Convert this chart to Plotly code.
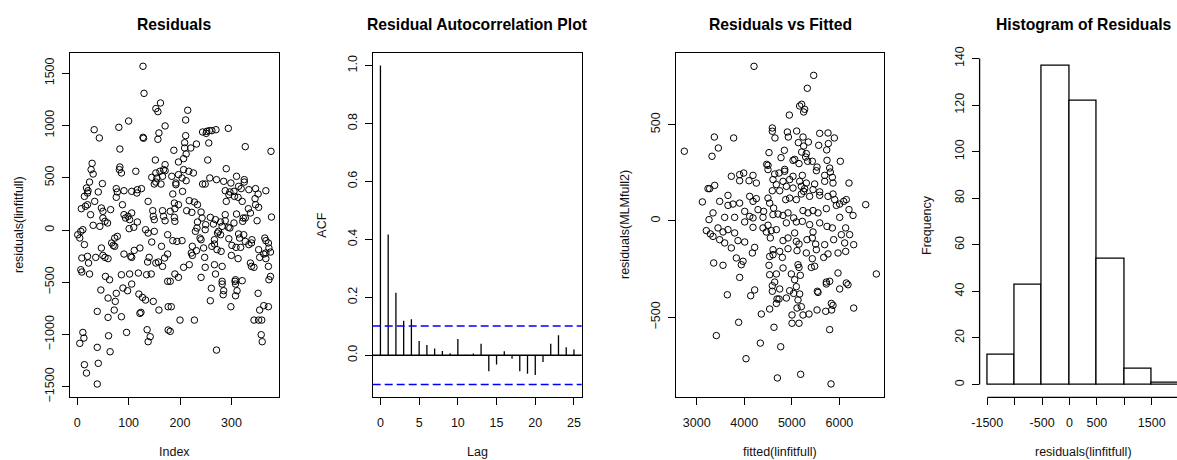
import plotly.graph_objects as go

# ---------------- data ----------------
# residuals(linfitfull) against observation index
obs_index = [
    128, 130, 162, 153, 157, 215, 211, 100, 33, 81, 171, 43, 128, 129, 159, 157, 211, 244, 252, 257,
    262, 270, 294, 251, 209, 256, 83, 188, 209, 221, 232, 212, 327, 377, 29, 152, 197, 207, 254, 171, 83,
    27, 31, 82, 86, 114, 153, 161, 168, 171, 197, 207, 217, 226, 290,
    145, 155, 166, 184, 204, 212, 192, 192, 249, 244, 258, 271, 285, 299, 310, 325, 325, 24, 49, 150, 163, 153,
    18, 21, 41, 20, 76, 78, 91, 106, 117, 116, 125, 186, 205, 314, 319, 305, 297, 288, 295, 306, 313, 334, 347, 367, 352,
    14, 34, 76, 88, 138, 189, 197, 218, 228, 234, 290, 321, 346, 347,
    8, 16, 20, 47, 50, 65, 26, 91, 106, 99, 147, 166, 181, 190, 213, 223, 241, 288, 310, 333, 353, 337, 323,
    50, 54, 31, 44, 59, 94, 102, 117, 148, 150, 168, 171, 189, 190, 234, 243, 259, 269, 279, 288, 305, 322, 327, 350,
    378, 250, 265, 282, 294, 297, 233, 110, 101,
    1, 7, 11, 5, 78, 73, 133, 150, 138, 176, 186, 194, 204, 230, 249, 275, 273, 279, 239, 241, 267, 295, 314, 316,
    324, 340, 327, 365, 367, 372,
    14, 47, 67, 70, 73, 122, 111, 145, 164, 224, 232, 246, 262, 267, 272, 280, 301, 309, 318, 334, 339, 353, 363,
    373, 376, 367, 222, 224, 248,
    9, 20, 36, 50, 54, 60, 22, 91, 104, 106, 140, 158, 170, 176, 153, 166, 137, 300, 313, 355, 367, 337, 339, 344,
    372, 267, 282, 249, 218, 207,
    7, 9, 24, 55, 63, 86, 102, 119, 135, 144, 176, 181, 190, 197, 241, 269, 282, 308, 321, 307, 373, 376,
    46, 60, 74, 76, 89, 98, 106, 120, 127, 133, 148, 159, 122, 124, 177, 183, 200, 228, 39, 60, 72, 86, 136, 142,
    138, 177, 181, 96, 61, 11, 13, 5, 39, 64, 41, 14, 18, 39, 261, 259, 285, 284, 308, 311, 299, 352, 363, 372,
    355, 344, 353, 359, 358, 360, 271, 308, 282,
]
obs_resid = [
    1567, 1308, 1216, 1162, 1133, 1146, 1053, 1043, 960, 983, 996, 881, 887, 878, 929, 868, 903, 938, 944, 951,
    951, 960, 973, 925, 836, 833, 775, 763, 785, 785, 823, 728, 798, 753, 638, 670, 651, 683, 670, 626, 603,
    578, 536, 578, 546, 562, 546, 562, 578, 568, 530, 578, 562, 546, 587,
    504, 498, 514, 514, 498, 472, 450, 434, 440, 440, 498, 482, 466, 450, 514, 482, 459, 459, 444, 440, 440, 459,
    402, 376, 364, 354, 396, 364, 376, 370, 386, 354, 396, 345, 370, 418, 396, 370, 364, 376, 338, 322, 313, 386, 396, 376, 345,
    322, 274, 313, 242, 274, 258, 242, 281, 268, 242, 274, 274, 300, 242,
    204, 227, 242, 211, 179, 195, 147, 147, 163, 131, 185, 185, 179, 204, 185, 169, 172, 147, 153, 204, 217, 163, 115,
    115, 83, 45, 35, 67, 115, 99, 77, 131, 99, 131, 89, 121, 83, 77, 115, 121, 99, 77, 89, 67, 83, 115, 89,
    124, 51, 57, 35, 26, 19, 19, 26, 13,
    -45, -13, 3, -77, -61, -77, 3, -13, -29, -45, -102, -109, -102, -13, 3, -13, -29, -45, -77, -93, -93, -83, -38, -77,
    -45, -93, -109, -77, -102, -124,
    -140, -172, -124, -147, -156, -172, -195, -115, -156, -156, -198, -172, -156, -134, -188, -204, -147, -166, -166,
    -140, -124, -188, -230, -172, -211, -220, -220, -243, -262,
    -268, -252, -262, -243, -262, -274, -316, -230, -252, -262, -262, -306, -268, -230, -316, -348, -306, -243, -274,
    -262, -274, -316, -348, -357, -348, -332, -348, -357, -332, -357,
    -380, -402, -421, -444, -476, -428, -421, -412, -428, -421, -491, -491, -421, -453, -453, -421, -491, -476, -485,
    -491, -476, -444,
    -574, -651, -683, -606, -555, -581, -517, -613, -645, -670, -683, -766, -798, -788, -734, -734, -862, -862, -779,
    -836, -766, -830, -954, -1021, -1069, -957, -970, -980, -1012, -980, -1034, -1085, -1123, -1165, -1276, -1289,
    -1369, -1474, -558, -677, -581, -619, -629, -581, -734, -606, -724, -734, -766, -862, -862, -862, -1002, -1069,
    -1149, -517, -517,
]

# autocorrelation of the residuals by lag
acf_lag = list(range(26))
acf_val = [1.0, 0.417, 0.216, 0.119, 0.124, 0.049, 0.035, 0.023, 0.015, 0.007, 0.056, 0.002, 0.006,
           0.040, -0.055, -0.032, 0.014, -0.012, -0.055, -0.064, -0.068, -0.023, 0.040, 0.069, 0.028, 0.020]
acf_bound = 0.101

# residuals(MLMfull2) against fitted(linfitfull)
fitted_vals = [
    4205, 5460, 5326, 5207, 5165, 5270, 5249, 4948, 2740, 3371, 3777, 3455, 3322, 4590, 4590, 4646, 4906, 4927,
    5102, 5586, 5761, 5894, 5235, 5137, 5249, 5347, 5565, 5768, 5733, 4520, 4843, 5207, 5305, 5291, 4773, 5025,
    5060, 5151, 5333, 5431, 5740, 6020, 4471, 4499, 5530, 5796, 4850,
    3728, 3903, 3988, 4184, 4499, 4640, 4731, 4850, 5025, 5221, 5516, 5691, 5810, 5852, 4604, 4100, 4254, 3903,
    3378, 3273, 3238, 4815, 4955, 5165, 5305, 5480, 5691, 5866, 6202, 4675, 4885, 5025, 5200, 5270, 5446, 5586,
    4590, 4745,
    3119, 3483, 3658, 3658, 3763, 3903, 4114, 4184, 4254, 4499, 4534, 4871, 4955, 5095, 5200, 5249, 5375, 5586,
    5761, 5866, 5901, 6090, 6146, 6553, 6006,
    3343, 3259, 3588, 3798, 4009, 4114, 4184, 4408, 4618, 4710, 4815, 4920, 5039, 5235, 5340, 5446, 5551, 5726,
    5936, 6006, 6202, 6287, 4394, 4604, 4289,
    3203, 3287, 3448, 3553, 3658, 3798, 4009, 4184, 4394, 4499, 4569, 4675, 4885, 5095, 5221, 5375, 5586, 5740,
    5852, 6132, 4464, 5060, 5446, 6041, 6216,
    3343, 3483, 3588, 3728, 3868, 4009, 4219, 4548, 4815, 4920, 5095, 5151, 5319, 5431, 5501, 5691, 5880, 6111,
    6301, 4604, 4745, 4920, 5109, 5305, 5516, 5761, 5971, 6132, 4170,
    3357, 3553, 3833, 3974, 3938, 4534, 4604, 4801, 5130, 5151, 5410, 5480, 5431, 5670, 4520, 4815, 5971, 6777,
    3903, 4534, 4675, 4990, 5179, 5726, 5796, 6146, 4640, 5060,
    3644, 4135, 4219, 4590, 4590, 4745, 4689, 4731, 4675, 4885, 4955, 5039, 5095, 5165, 5130, 5109, 5200, 5537,
    5551, 5726, 6006, 6181, 5831, 5866, 5838, 5712, 5530, 6301, 4534, 4359, 5004, 5235, 5361, 5004, 5151, 3882,
    4625, 5796, 3413, 4338, 4766, 4037, 5186, 4696, 5824,
]
mlm_resid = [
    803, 756, 689, 606, 597, 580, 566, 550, 362, 436, 431, 379, 336, 483, 466, 431, 462, 436,
    467, 455, 457, 431, 436, 407, 389, 410, 393, 402, 369, 355, 367, 358, 350, 332, 329, 315,
    320, 298, 310, 310, 315, 310, 294, 289, 280, 275, 268,
    232, 241, 249, 237, 267, 244, 249, 258, 232, 237, 261, 237, 254, 227, 215, 209, 197, 209,
    185, 168, 168, 206, 215, 206, 197, 192, 206, 197, 197, 189, 180, 171, 180, 168, 163, 151,
    157, 157,
    99, 102, 133, 81, 88, 93, 128, 102, 116, 119, 93, 111, 119, 111, 140, 154, 128, 133,
    128, 140, 111, 102, 111, 85, 88,
    42, 7, 19, 19, 50, 24, 16, 50, 67, 36, 29, 42, 16, 54, 42, 54, 42, 64,
    81, 19, 59, 29, 19, 33, 59,
    -50, -67, -36, -57, -45, -62, -5, -33, -36, -22, -50, -45, -10, -5, -2, -19, -10, -28,
    -36, -36, -57, -62, -57, -71, -71,
    -80, -97, -114, -140, -102, -109, -137, -88, -102, -88, -106, -120, -97, -88, -120, -123, -97, -114,
    -123, -149, -158, -144, -154, -166, -149, -171, -166, -158, -166,
    -218, -230, -192, -209, -227, -184, -175, -189, -227, -241, -241, -235, -196, -189, -230, -244, -270, -275,
    -293, -279, -275, -275, -282, -317, -313, -322, -317, -305,
    -383, -388, -358, -336, -365, -353, -405, -405, -428, -400, -362, -376, -341, -379, -410, -452, -445, -365,
    -371, -327, -353, -331, -428, -438, -462, -469, -462, -452, -457, -483, -488, -488, -483, -531, -531, -526,
    -552, -564, -595, -634, -653, -715, -796, -815, -846,
]

# histogram of residuals(linfitfull)
hist_edges = [-1500, -1000, -500, 0, 500, 1000, 1500, 2000]
hist_counts = [13, 43, 137, 122, 54, 7, 1]

# ---------------- layout helpers ----------------
W, H = 1177, 460
FONT = "Liberation Sans, Arial, sans-serif"
INK = "#111111"
LW = 1.3


def fx(p):
    return p / W


def fy(p):
    return 1 - p / H


Y_DOM = [fy(397.3), fy(52.7)]
panels = [(70.0, 278.7), (372.7, 581.7), (675.7, 884.3), (979.6, 1177.0)]


def axis_style(dom, rng, tickvals, ticktext=None, boxed=True, vertical=False, anchor=None):
    d = dict(
        domain=dom,
        range=rng,
        tickmode="array",
        tickvals=tickvals,
        ticks="outside",
        ticklen=7,
        tickwidth=LW,
        tickcolor="black",
        showgrid=False,
        zeroline=False,
        showline=boxed,
        mirror=boxed,
        linecolor="black",
        linewidth=LW,
        tickfont=dict(family=FONT, size=12.5, color=INK),
        automargin=False,
        anchor=anchor,
        fixedrange=True,
    )
    if ticktext is not None:
        d["ticktext"] = ticktext
    if vertical:
        d["tickangle"] = -90
        d["ticklabelstandoff"] = 3
    else:
        d["ticklabelstandoff"] = 7
    return d


fig = go.Figure()

circle = dict(symbol="circle-open", size=6.5, color="black", line=dict(width=1, color="black"))

# Panel 1: residuals by index
fig.add_trace(go.Scatter(x=obs_index, y=obs_resid, mode="markers", marker=circle,
                         xaxis="x", yaxis="y", showlegend=False, hoverinfo="skip"))

# Panel 2: ACF stems
stem_x, stem_y = [], []
for lag, val in zip(acf_lag, acf_val):
    stem_x += [lag, lag, None]
    stem_y += [0, val, None]
fig.add_trace(go.Scatter(x=stem_x, y=stem_y, mode="lines", line=dict(color="black", width=LW),
                         xaxis="x2", yaxis="y2", showlegend=False, hoverinfo="skip"))

# Panel 3: residuals vs fitted
fig.add_trace(go.Scatter(x=fitted_vals, y=mlm_resid, mode="markers", marker=circle,
                         xaxis="x3", yaxis="y3", showlegend=False, hoverinfo="skip"))

# Panel 4: histogram bars
centers = [(a + b) / 2 for a, b in zip(hist_edges[:-1], hist_edges[1:])]
widths = [b - a for a, b in zip(hist_edges[:-1], hist_edges[1:])]
fig.add_trace(go.Bar(x=centers, y=hist_counts, width=widths,
                     marker=dict(color="white", line=dict(color="black", width=LW)),
                     xaxis="x4", yaxis="y4", showlegend=False, hoverinfo="skip"))

p1, p2, p3, p4 = panels
fig.update_layout(
    width=W, height=H,
    margin=dict(l=0, r=0, t=0, b=0),
    paper_bgcolor="white", plot_bgcolor="white",
    bargap=0,
    xaxis=axis_style([fx(p1[0]), fx(p1[1])], [-14.04, 392.04], [0, 100, 200, 300], anchor="y"),
    yaxis=axis_style(Y_DOM, [-1601, 1697], [-1500, -1000, -500, 0, 500, 1000, 1500], vertical=True, anchor="x"),
    xaxis2=axis_style([fx(p2[0]), fx(p2[1])], [-1, 26], [0, 5, 10, 15, 20, 25], anchor="y2"),
    yaxis2=axis_style(Y_DOM, [-0.1452, 1.0444], [0, 0.2, 0.4, 0.6, 0.8, 1.0],
                      ["0.0", "0.2", "0.4", "0.6", "0.8", "1.0"], vertical=True, anchor="x2"),
    xaxis3=axis_style([fx(p3[0]), fx(p3[1])], [2558.5, 6944.5], [3000, 4000, 5000, 6000], anchor="y3"),
    yaxis3=axis_style(Y_DOM, [-915.4, 873.8], [-500, 0, 500], vertical=True, anchor="x3"),
    xaxis4=axis_style([fx(p4[0]), fx(p4[1])], [-1640, 1962],
                      [-1500, -1000, -500, 0, 500, 1000, 1500, 2000],
                      ["-1500", "", "-500", "0", "500", "", "1500", "2000"], boxed=False, anchor="y4"),
    yaxis4=axis_style(Y_DOM, [-5.48, 142.48], [0, 20, 40, 60, 80, 100, 120, 140],
                      boxed=False, vertical=True, anchor="x4"),
)

shapes = []
# ACF reference lines
shapes.append(dict(type="line", xref="x2 domain", yref="y2", x0=0, x1=1, y0=0, y1=0,
                   line=dict(color="black", width=LW)))
for b in (acf_bound, -acf_bound):
    shapes.append(dict(type="line", xref="x2 domain", yref="y2", x0=0, x1=1, y0=b, y1=b,
                       line=dict(color="#0000FF", width=LW, dash="8px,4px")))
# histogram axis lines spanning first to last tick
shapes.append(dict(type="line", xref="x4", yref="y4 domain", x0=hist_edges[0], x1=hist_edges[-1],
                   y0=0, y1=0, line=dict(color="black", width=LW)))
shapes.append(dict(type="line", xref="x4 domain", yref="y4", x0=0, x1=0, y0=0, y1=140,
                   line=dict(color="black", width=LW)))
fig.update_layout(shapes=shapes)

titles = ["Residuals", "Residual Autocorrelation Plot", "Residuals vs Fitted", "Histogram of Residuals"]
xlabels = ["Index", "Lag", "fitted(linfitfull)", "residuals(linfitfull)"]
ylabels = ["residuals(linfitfull)", "ACF", "residuals(MLMfull2)", "Frequency"]
ylabel_x = [19, 321.7, 625, 927]
plot_centers = [(p1[0] + p1[1]) / 2, (p2[0] + p2[1]) / 2, (p3[0] + p3[1]) / 2, (979.6 + 1186.7) / 2]

ann = []
for i in range(4):
    ann.append(dict(text=titles[i], x=fx(plot_centers[i]), y=fy(24), xref="paper", yref="paper",
                    showarrow=False, xanchor="center", yanchor="middle",
                    font=dict(family=FONT, size=15.7, color="black", weight="bold")))
    ann.append(dict(text=xlabels[i], x=fx(plot_centers[i]), y=fy(451.5), xref="paper", yref="paper",
                    showarrow=False, xanchor="center", yanchor="middle",
                    font=dict(family=FONT, size=12.5, color=INK)))
    ann.append(dict(text=ylabels[i], x=fx(ylabel_x[i]), y=fy(225), xref="paper", yref="paper",
                    showarrow=False, xanchor="center", yanchor="middle", textangle=-90,
                    font=dict(family=FONT, size=12.5, color=INK)))
fig.update_layout(annotations=ann)

fig.write_html("out.html")
